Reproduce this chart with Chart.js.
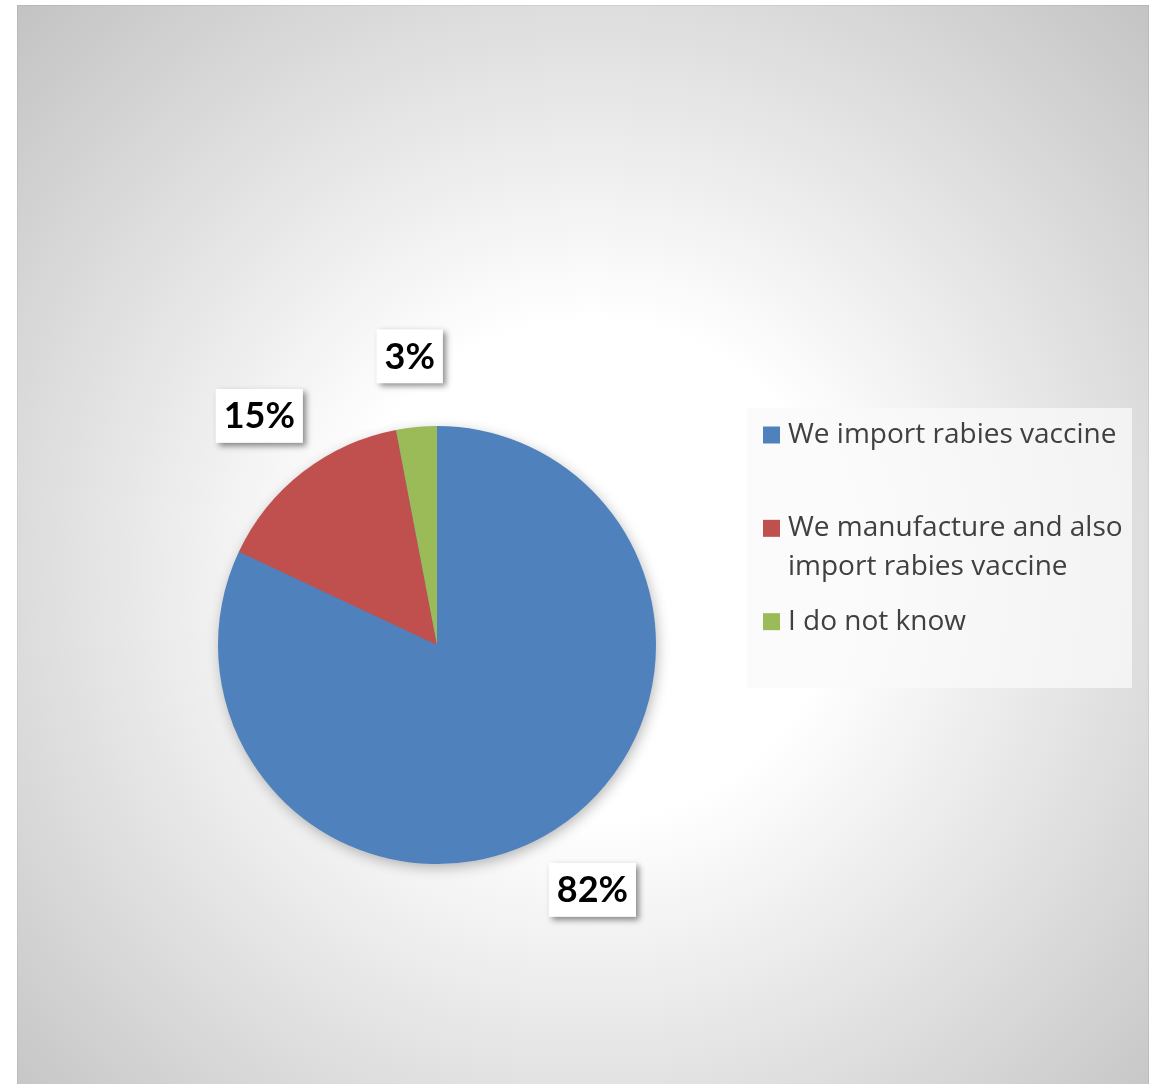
<!DOCTYPE html>
<html>
<head>
<meta charset="utf-8">
<script src="https://cdn.jsdelivr.net/npm/chart.js@4.4.1/dist/chart.umd.min.js"></script>
<style>
  html, body { margin: 0; padding: 0; background: #fff; }
  #wrap { width: 1155px; height: 1084px; }
</style>
</head>
<body>
<div id="wrap"><canvas id="chart" width="1155" height="1084"></canvas></div>
<script>
// Données du graphique
const categories = ['We import rabies vaccine', 'We manufacture and also import rabies vaccine', 'I do not know'];
const percentages = [82, 15, 3];
const sliceColors = ['#4F81BD', '#C0504D', '#9BBB59'];

// Fond : dégradé radial gris / blanc
const backgroundPlugin = {
    id: 'bgGradient',
    beforeDraw(chart) {
        const ctx = chart.ctx;
        ctx.save();
        ctx.fillStyle = '#ffffff';
        ctx.fillRect(0, 0, chart.width, chart.height);
        const g = ctx.createRadialGradient(590, 570, 0, 590, 570, 830);
        g.addColorStop(0, '#ffffff');
        g.addColorStop(0.3, '#ffffff');
        g.addColorStop(1, '#c0c0c0');
        ctx.fillStyle = g;
        ctx.fillRect(17, 5, 1132, 1079);
        ctx.strokeStyle = 'rgba(0,0,0,0.06)';
        ctx.lineWidth = 1;
        ctx.strokeRect(17.5, 5.5, 1131, 1079);
        ctx.restore();
    },
    beforeDatasetsDraw(chart) {
        // ombre légère sous le camembert
        const arc = chart.getDatasetMeta(0).data[0];
        if (!arc) return;
        const ctx = chart.ctx;
        ctx.save();
        ctx.shadowColor = 'rgba(0,0,0,0.3)';
        ctx.shadowBlur = 14;
        ctx.shadowOffsetX = 2;
        ctx.shadowOffsetY = 4;
        ctx.fillStyle = sliceColors[0];
        ctx.beginPath();
        ctx.arc(arc.x, arc.y, arc.outerRadius - 1, 0, Math.PI * 2);
        ctx.fill();
        ctx.restore();
    }
};

// Étiquettes de pourcentage dans des boîtes blanches
const labelPlugin = {
    id: 'pctLabels',
    afterDatasetsDraw(chart) {
        const ctx = chart.ctx;
        const meta = chart.getDatasetMeta(0);
        ctx.save();
        ctx.font = 'bold 36px Lato';
        ctx.textAlign = 'center';
        ctx.textBaseline = 'middle';
        meta.data.forEach((arc, i) => {
            const text = percentages[i] + '%';
            const mid = (arc.startAngle + arc.endAngle) / 2;
            const tw = ctx.measureText(text).width;
            const w = tw + 16, h = 54;
            const d = arc.outerRadius + 71;
            const cx = arc.x + Math.cos(mid) * d;
            const cy = arc.y + Math.sin(mid) * d;
            ctx.save();
            ctx.shadowColor = 'rgba(0,0,0,0.45)';
            ctx.shadowBlur = 6;
            ctx.shadowOffsetX = 3;
            ctx.shadowOffsetY = 3;
            ctx.fillStyle = '#ffffff';
            ctx.fillRect(cx - w / 2, cy - h / 2, w, h);
            ctx.restore();
            ctx.fillStyle = '#000000';
            ctx.fillText(text, cx, cy + 1);
        });
        ctx.restore();
    }
};

// Légende dessinée à la main (style Excel)
const legendPlugin = {
    id: 'sideLegend',
    afterDraw(chart) {
        const ctx = chart.ctx;
        const box = { x: 747, y: 408, w: 385, h: 280 };
        ctx.save();
        ctx.fillStyle = 'rgba(250,250,250,0.75)';
        ctx.fillRect(box.x, box.y, box.w, box.h);
        ctx.font = '28px "Open Sans"';
        ctx.textBaseline = 'middle';
        const slot = box.h / categories.length;
        categories.forEach((label, i) => {
            // découpe du texte en lignes
            const words = label.split(' ');
            const lines = [];
            let cur = '';
            words.forEach(wd => {
                const test = cur ? cur + ' ' + wd : wd;
                if (ctx.measureText(test).width > 340 && cur) {
                    lines.push(cur);
                    cur = wd;
                } else {
                    cur = test;
                }
            });
            lines.push(cur);
            const y0 = box.y + slot * i + 27;
            ctx.fillStyle = sliceColors[i];
            ctx.fillRect(box.x + 16, y0 - 8.5, 17, 17);
            ctx.fillStyle = '#404040';
            lines.forEach((ln, k) => {
                ctx.fillText(ln, box.x + 41, y0 + k * 39);
            });
        });
        ctx.restore();
    }
};

const ctx = document.getElementById('chart').getContext('2d');
new Chart(ctx, {
    type: 'pie',
    data: {
        labels: categories,
        datasets: [{
            data: percentages,
            backgroundColor: sliceColors,
            borderWidth: 0
        }]
    },
    options: {
        responsive: false,
        animation: false,
        layout: {
            padding: { left: 218, right: 499, top: 426, bottom: 220 }
        },
        plugins: {
            legend: { display: false },
            tooltip: { enabled: false }
        }
    },
    plugins: [backgroundPlugin, labelPlugin, legendPlugin]
});
</script>
</body>
</html>
